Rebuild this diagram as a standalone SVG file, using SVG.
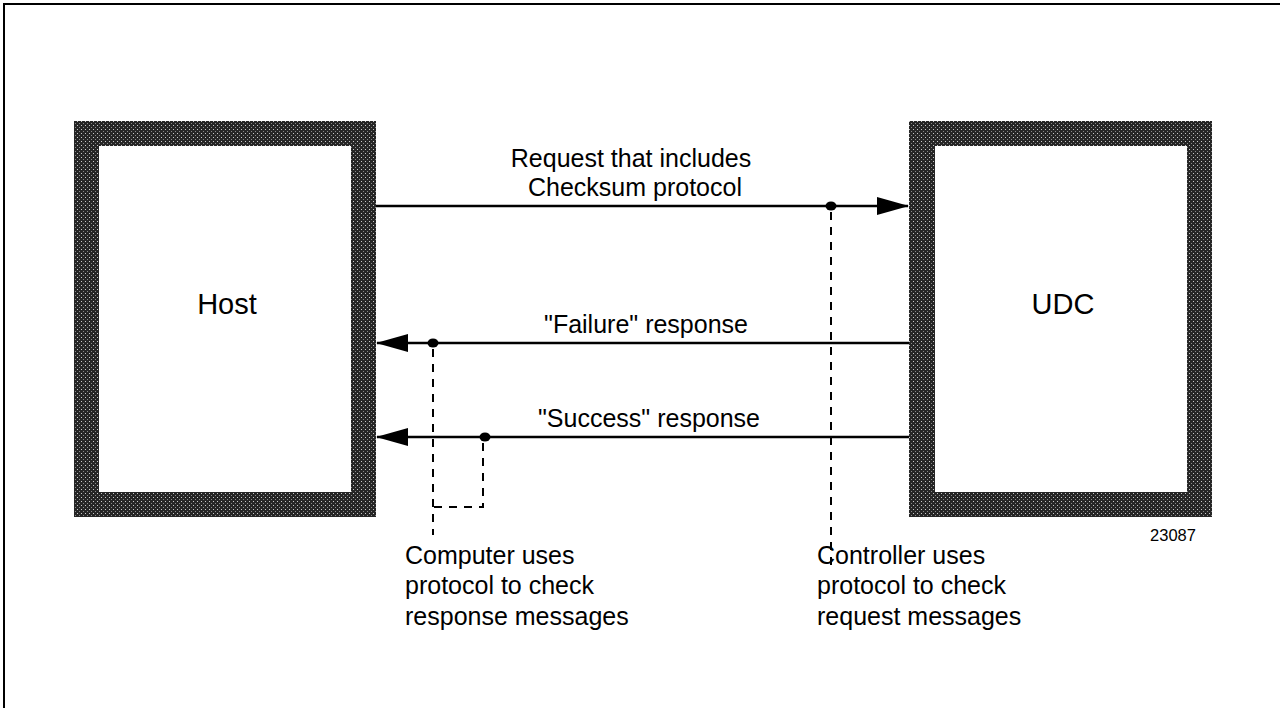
<svg xmlns="http://www.w3.org/2000/svg" width="1280" height="708" viewBox="0 0 1280 708">
<style>
.t{font-family:"Liberation Sans",Arial,sans-serif;font-size:25px;fill:#000}
.big{font-size:29px}
.small{font-size:16.5px}
.ln{stroke:#000;stroke-width:2.5;fill:none}
.dash{stroke:#000;stroke-width:2;fill:none;stroke-dasharray:8,7}
.frame{fill:url(#hatch)}
</style>
<defs>
<pattern id="hatch" width="4" height="4" patternUnits="userSpaceOnUse">
<rect width="4" height="4" fill="#262626"/>
<rect x="1" y="1" width="1" height="1" fill="#c8c8c8"/>
<rect x="3" y="3" width="1" height="1" fill="#888"/>
</pattern>
<marker id="ah" markerWidth="32" markerHeight="18" refX="31" refY="9" orient="auto" markerUnits="userSpaceOnUse">
<path d="M0,0 L32,9 L0,18 Z" fill="#000"/>
</marker>
</defs>
<rect x="4" y="4" width="1290" height="720" fill="none" stroke="#000" stroke-width="2"/>
<g id="host">
<path class="frame" fill-rule="evenodd" d="M74,121 H376 V517 H74 Z M99,146 V492 H351 V146 Z"/>
<text class="t big" x="227" y="314" text-anchor="middle">Host</text>
</g>
<g id="udc">
<path class="frame" fill-rule="evenodd" d="M909,121 H1212 V517 H909 Z M935,146 V492 H1187 V146 Z"/>
<text class="t big" x="1063" y="314" text-anchor="middle">UDC</text>
</g>
<g id="connectors">
<line class="ln" x1="376" y1="206" x2="908" y2="206" marker-end="url(#ah)"/>
<line class="ln" x1="909" y1="343" x2="377" y2="343" marker-end="url(#ah)"/>
<line class="ln" x1="909" y1="437" x2="377" y2="437" marker-end="url(#ah)"/>
<ellipse cx="831" cy="206" rx="5.5" ry="4.5" fill="#000"/>
<ellipse cx="433" cy="343" rx="5.5" ry="4.5" fill="#000"/>
<ellipse cx="485" cy="437" rx="5.5" ry="4.5" fill="#000"/>
<path class="dash" d="M831,212 V570"/>
<path class="dash" d="M433,349 V535"/>
<path class="dash" d="M483,443 V507 H433"/>
</g>
<g id="labels">
<text class="t" x="631" y="167" text-anchor="middle">Request that includes</text>
<text class="t" x="635" y="196" text-anchor="middle">Checksum protocol</text>
<text class="t" x="646" y="333" text-anchor="middle">"Failure" response</text>
<text class="t" x="649" y="427" text-anchor="middle">"Success" response</text>
<text class="t small" x="1173" y="541" text-anchor="middle">23087</text>
<text class="t" x="405" y="564">Computer uses</text>
<text class="t" x="405" y="594">protocol to check</text>
<text class="t" x="405" y="625">response messages</text>
<text class="t" x="817" y="564">Controller uses</text>
<text class="t" x="817" y="594">protocol to check</text>
<text class="t" x="817" y="625">request messages</text>
</g>
</svg>
